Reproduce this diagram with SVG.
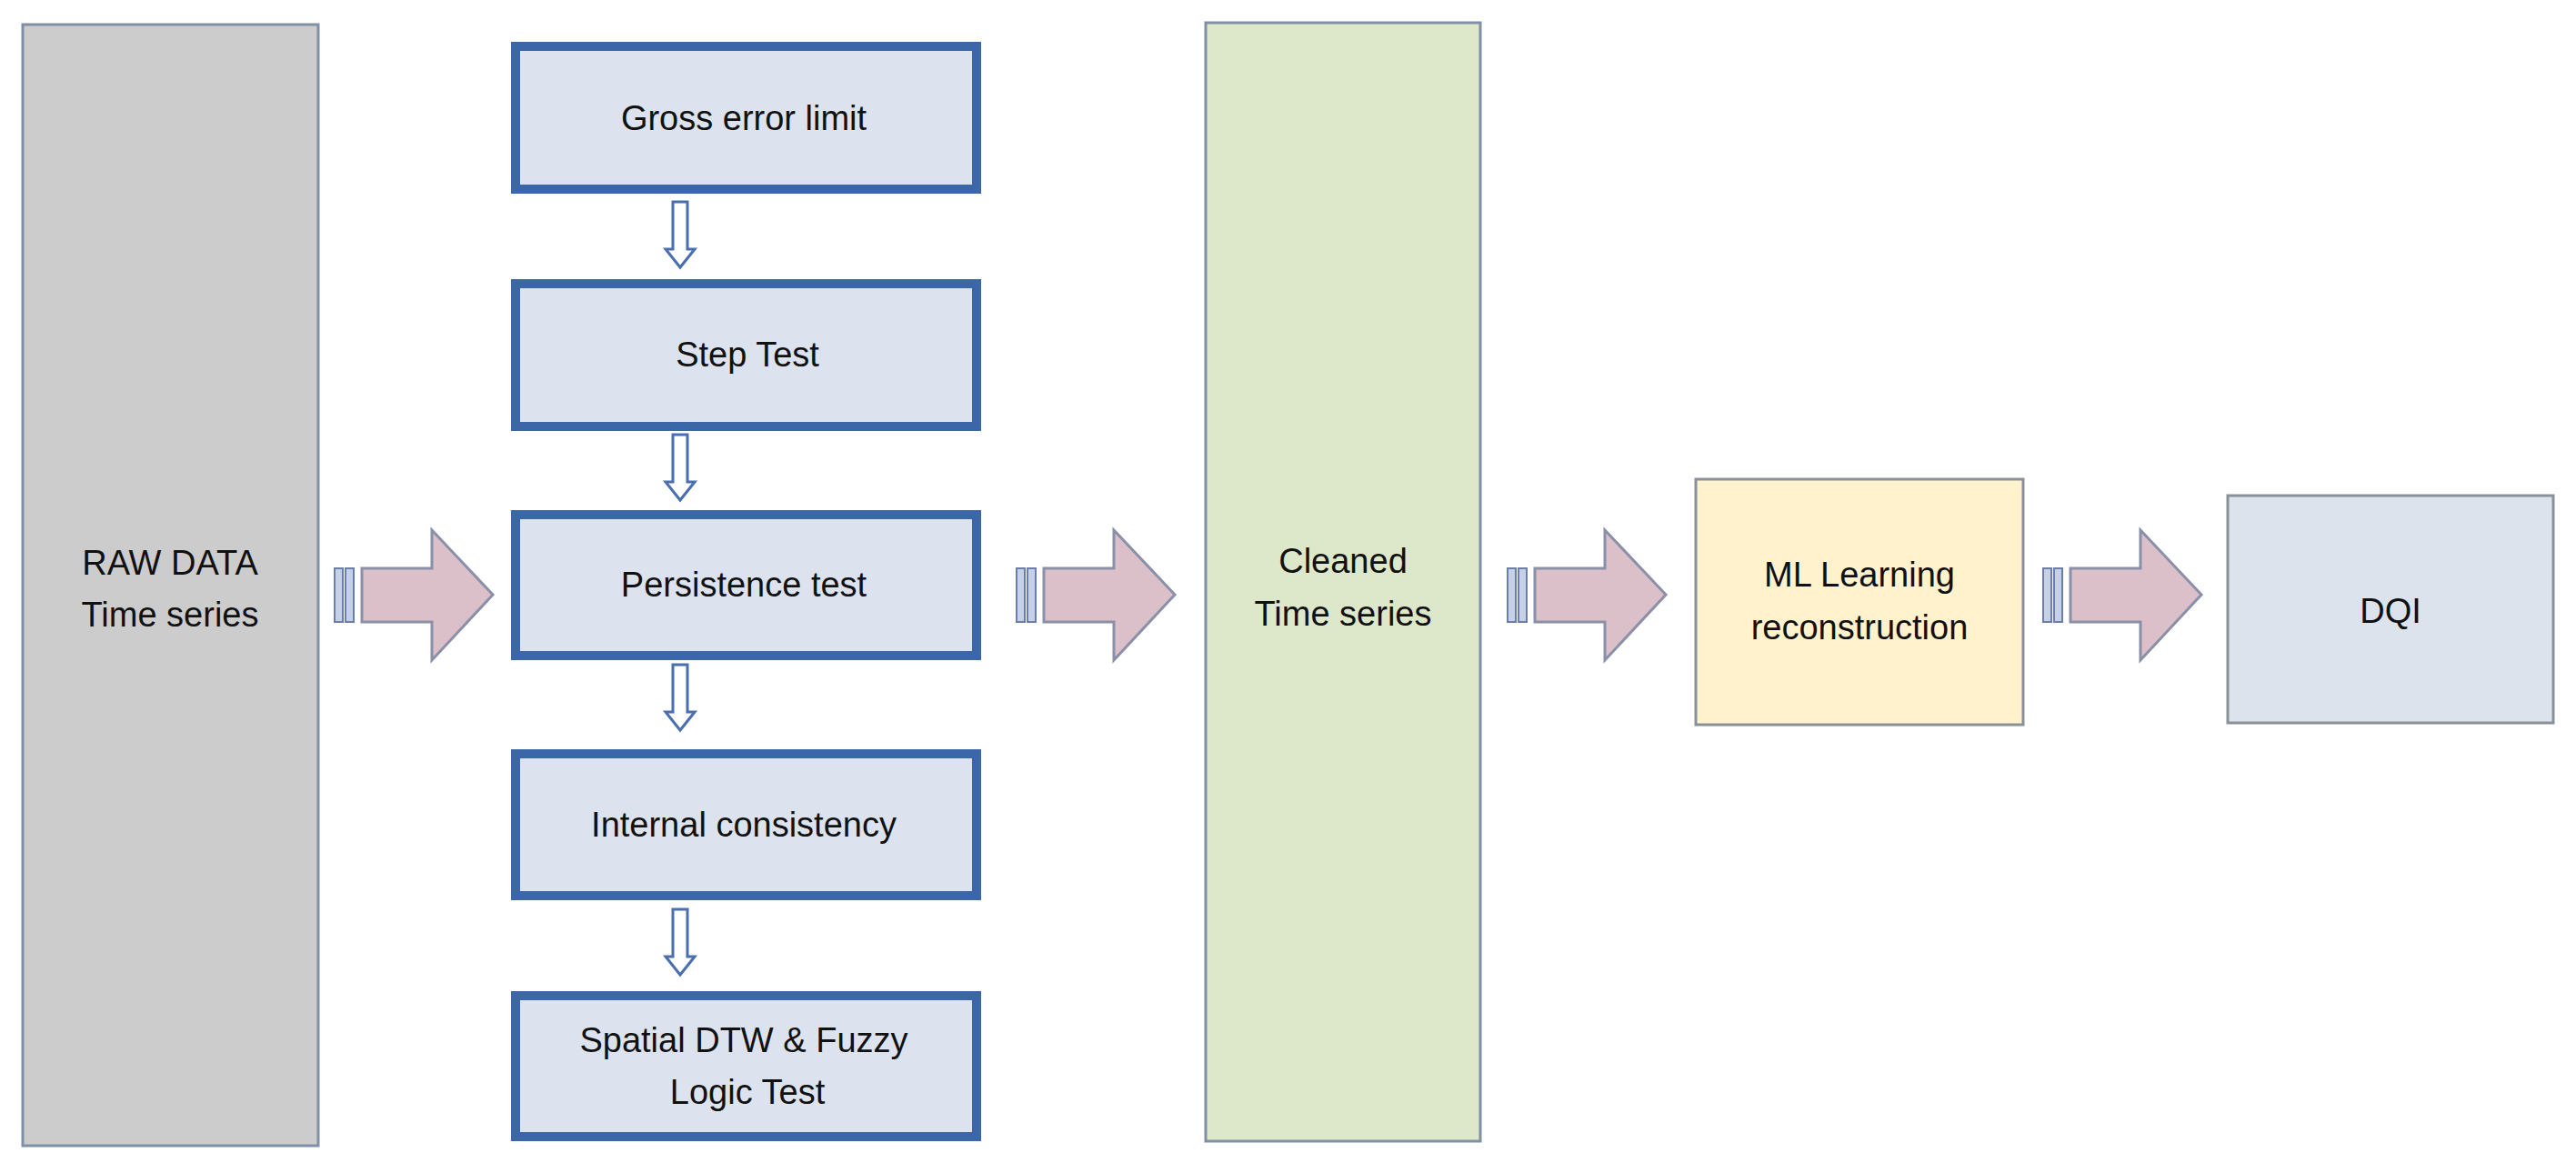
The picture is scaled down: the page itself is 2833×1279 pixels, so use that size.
<svg xmlns="http://www.w3.org/2000/svg" width="2833" height="1279" viewBox="0 0 2833 1279">
<style>
text{font-family:"Liberation Sans",Arial,sans-serif;font-size:38px;fill:#111;text-anchor:middle}
.t{fill:#dce3ee;stroke:#3b66a8;stroke-width:10}
.big{fill:#dcc0c9;stroke:#8a90a8;stroke-width:3}
.bar{fill:#c6d0e6;stroke:#6b7fa8;stroke-width:2}
.sm{fill:#fff;stroke:#4a6fae;stroke-width:3}
</style>
<defs>
<g id="ba">
<rect class="bar" x="0" y="-29" width="9" height="59"/>
<rect class="bar" x="12" y="-29" width="9" height="59"/>
<path class="big" d="M30,-29 H107 V-71 L174,0 L107,72 V30 H30 Z"/>
</g>
<path id="sa" class="sm" d="M-8,0 H8 V52 H16 L0,72 L-16,52 H-8 Z"/>
</defs>
<rect width="2833" height="1279" fill="#fff"/>
<g id="raw"><rect x="25" y="27" width="325" height="1233" fill="#cccccc" stroke="#7f8fa6" stroke-width="3"/>
<text x="187" y="632">RAW DATA</text><text x="187" y="689">Time series</text></g>
<g id="gross"><rect class="t" x="567" y="51" width="507" height="157"/><text x="818" y="143">Gross error limit</text></g>
<g id="step"><rect class="t" x="567" y="312" width="507" height="157"/><text x="822" y="403">Step Test</text></g>
<g id="persist"><rect class="t" x="567" y="566" width="507" height="155"/><text x="818" y="656">Persistence test</text></g>
<g id="internal"><rect class="t" x="567" y="829" width="507" height="156"/><text x="818" y="920">Internal consistency</text></g>
<g id="spatial"><rect class="t" x="567" y="1095" width="507" height="155"/><text x="818" y="1157">Spatial DTW &amp; Fuzzy</text><text x="822" y="1214">Logic Test</text></g>
<g id="cleaned"><rect x="1326" y="25" width="302" height="1230" fill="#dde8cb" stroke="#7f8fa6" stroke-width="3"/>
<text x="1477" y="630">Cleaned</text><text x="1477" y="688">Time series</text></g>
<g id="ml"><rect x="1865" y="527" width="360" height="270" fill="#fff2cc" stroke="#8a9098" stroke-width="3"/>
<text x="2045" y="645">ML Learning</text><text x="2045" y="703">reconstruction</text></g>
<g id="dqi"><rect x="2450" y="545" width="358" height="250" fill="#dce3ed" stroke="#8a9098" stroke-width="3"/>
<text x="2629" y="685">DQI</text></g>
<g id="connectors">
<use href="#sa" x="748" y="222"/>
<use href="#sa" x="748" y="478"/>
<use href="#sa" x="748" y="731"/>
<use href="#sa" x="748" y="1000"/>
<use href="#ba" x="368" y="654"/>
<use href="#ba" x="1118" y="654"/>
<use href="#ba" x="1658" y="654"/>
<use href="#ba" x="2247" y="654"/>
</g>
</svg>
